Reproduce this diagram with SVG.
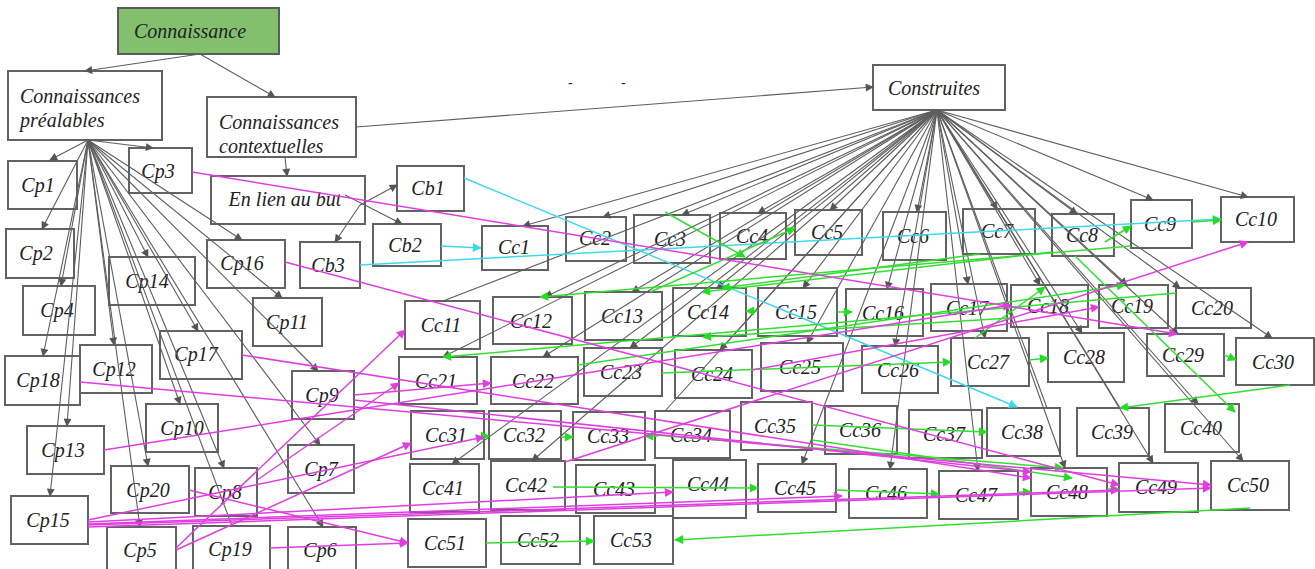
<svg xmlns="http://www.w3.org/2000/svg" width="1315" height="569" viewBox="0 0 1315 569">
<style>
.n rect{fill:#fff;stroke:#626262;stroke-width:2}
.n text{font-family:"Liberation Serif","Times New Roman",serif;font-style:italic;font-size:20px;fill:#222;text-anchor:middle}
.n text.l{text-anchor:start}
#conn line{fill:none}
.g{stroke:#5e5e5e;stroke-width:1.1}
.m{stroke:#e03ee0;stroke-width:1.5}
.c{stroke:#3fd8ea;stroke-width:1.5}
.v{stroke:#33dd33;stroke-width:1.5}
.dash{font-family:"Liberation Sans",sans-serif;font-size:14px;fill:#222}
</style>
<defs>
<marker id="ag" viewBox="0 0 10 10" refX="9" refY="5" markerWidth="10" markerHeight="8" markerUnits="userSpaceOnUse" orient="auto"><path d="M0,0L10,5L0,10z" fill="#555"/></marker>
<marker id="am" viewBox="0 0 10 10" refX="9" refY="5" markerWidth="11" markerHeight="9" markerUnits="userSpaceOnUse" orient="auto"><path d="M0,0L10,5L0,10z" fill="#e03ee0"/></marker>
<marker id="ac" viewBox="0 0 10 10" refX="9" refY="5" markerWidth="11" markerHeight="9" markerUnits="userSpaceOnUse" orient="auto"><path d="M0,0L10,5L0,10z" fill="#3fd8ea"/></marker>
<marker id="av" viewBox="0 0 10 10" refX="9" refY="5" markerWidth="11" markerHeight="9" markerUnits="userSpaceOnUse" orient="auto"><path d="M0,0L10,5L0,10z" fill="#22dd22"/></marker>
</defs>
<rect width="1315" height="569" fill="#fff"/>
<text class="dash" x="568" y="88">-</text>
<text class="dash" x="621" y="88">-</text>

<g id="Connaissance" class="n"><rect x="118" y="8" width="161" height="46" style="fill:#83c06e;stroke:#5b5b5b"/><text x="190" y="38">Connaissance</text></g>
<g id="Cpre" class="n"><rect x="8" y="71" width="154" height="69"/><text class="l" x="20" y="103">Connaissances</text><text class="l" x="20" y="127">préalables</text></g>
<g id="Cctx" class="n"><rect x="207" y="97" width="149" height="60"/><text class="l" x="219" y="129">Connaissances</text><text class="l" x="219" y="153">contextuelles</text></g>
<g id="Construites" class="n"><rect x="873" y="65" width="132" height="45"/><text x="934" y="95">Construites</text></g>
<g id="EnLien" class="n"><rect x="211" y="176" width="154" height="48"/><text x="285" y="206">En lien au but</text></g>
<g id="Cp1" class="n"><rect x="8" y="161" width="69" height="48"/><text x="38" y="192">Cp1</text></g>
<g id="Cp2" class="n"><rect x="6" y="229" width="68" height="49"/><text x="36" y="260">Cp2</text></g>
<g id="Cp3" class="n"><rect x="129" y="148" width="63" height="45"/><text x="158" y="178">Cp3</text></g>
<g id="Cp4" class="n"><rect x="23" y="286" width="72" height="49"/><text x="57" y="317">Cp4</text></g>
<g id="Cp14" class="n"><rect x="109" y="257" width="86" height="48"/><text x="147" y="288">Cp14</text></g>
<g id="Cp16" class="n"><rect x="207" y="240" width="78" height="48"/><text x="242" y="270">Cp16</text></g>
<g id="Cp11" class="n"><rect x="253" y="298" width="69" height="48"/><text x="287" y="329">Cp11</text></g>
<g id="Cp17" class="n"><rect x="160" y="331" width="82" height="48"/><text x="196" y="361">Cp17</text></g>
<g id="Cp12" class="n"><rect x="80" y="345" width="72" height="48"/><text x="114" y="376">Cp12</text></g>
<g id="Cp18" class="n"><rect x="5" y="356" width="75" height="49"/><text x="38" y="387">Cp18</text></g>
<g id="Cp9" class="n"><rect x="292" y="371" width="62" height="48"/><text x="322" y="402">Cp9</text></g>
<g id="Cp13" class="n"><rect x="27" y="426" width="77" height="48"/><text x="63" y="457">Cp13</text></g>
<g id="Cp10" class="n"><rect x="146" y="404" width="72" height="48"/><text x="182" y="435">Cp10</text></g>
<g id="Cp7" class="n"><rect x="288" y="445" width="66" height="48"/><text x="321" y="476">Cp7</text></g>
<g id="Cp20" class="n"><rect x="111" y="466" width="78" height="47"/><text x="148" y="497">Cp20</text></g>
<g id="Cp8" class="n"><rect x="195" y="468" width="62" height="48"/><text x="225" y="499">Cp8</text></g>
<g id="Cp15" class="n"><rect x="11" y="496" width="77" height="48"/><text x="48" y="527">Cp15</text></g>
<g id="Cp5" class="n"><rect x="107" y="527" width="69" height="46"/><text x="140" y="557">Cp5</text></g>
<g id="Cp19" class="n"><rect x="193" y="526" width="77" height="46"/><text x="230" y="556">Cp19</text></g>
<g id="Cp6" class="n"><rect x="288" y="527" width="68" height="46"/><text x="320" y="557">Cp6</text></g>
<g id="Cb1" class="n"><rect x="397" y="166" width="67" height="45"/><text x="428" y="195">Cb1</text></g>
<g id="Cb2" class="n"><rect x="373" y="224" width="68" height="42"/><text x="405" y="252">Cb2</text></g>
<g id="Cb3" class="n"><rect x="300" y="242" width="60" height="46"/><text x="328" y="272">Cb3</text></g>
<g id="Cc1" class="n"><rect x="482" y="226" width="66" height="44"/><text x="514" y="254">Cc1</text></g>
<g id="Cc2" class="n"><rect x="566" y="217" width="60" height="44"/><text x="595" y="245">Cc2</text></g>
<g id="Cc3" class="n"><rect x="634" y="215" width="76" height="48"/><text x="670" y="246">Cc3</text></g>
<g id="Cc4" class="n"><rect x="720" y="213" width="66" height="46"/><text x="752" y="243">Cc4</text></g>
<g id="Cc5" class="n"><rect x="795" y="210" width="67" height="45"/><text x="827" y="239">Cc5</text></g>
<g id="Cc6" class="n"><rect x="883" y="212" width="63" height="48"/><text x="913" y="243">Cc6</text></g>
<g id="Cc7" class="n"><rect x="963" y="209" width="72" height="45"/><text x="997" y="238">Cc7</text></g>
<g id="Cc8" class="n"><rect x="1052" y="214" width="62" height="42"/><text x="1082" y="242">Cc8</text></g>
<g id="Cc9" class="n"><rect x="1131" y="200" width="61" height="48"/><text x="1160" y="231">Cc9</text></g>
<g id="Cc10" class="n"><rect x="1221" y="197" width="73" height="45"/><text x="1256" y="226">Cc10</text></g>
<g id="Cc11" class="n"><rect x="405" y="301" width="75" height="48"/><text x="441" y="332">Cc11</text></g>
<g id="Cc12" class="n"><rect x="493" y="297" width="79" height="47"/><text x="531" y="328">Cc12</text></g>
<g id="Cc13" class="n"><rect x="585" y="292" width="77" height="48"/><text x="622" y="323">Cc13</text></g>
<g id="Cc14" class="n"><rect x="673" y="288" width="73" height="48"/><text x="708" y="319">Cc14</text></g>
<g id="Cc15" class="n"><rect x="758" y="288" width="79" height="48"/><text x="796" y="319">Cc15</text></g>
<g id="Cc16" class="n"><rect x="846" y="289" width="77" height="47"/><text x="883" y="320">Cc16</text></g>
<g id="Cc17" class="n"><rect x="931" y="284" width="76" height="47"/><text x="967" y="315">Cc17</text></g>
<g id="Cc18" class="n"><rect x="1011" y="285" width="77" height="42"/><text x="1048" y="313">Cc18</text></g>
<g id="Cc19" class="n"><rect x="1099" y="285" width="69" height="43"/><text x="1132" y="313">Cc19</text></g>
<g id="Cc20" class="n"><rect x="1176" y="288" width="75" height="40"/><text x="1212" y="315">Cc20</text></g>
<g id="Cc21" class="n"><rect x="399" y="357" width="78" height="47"/><text x="436" y="388">Cc21</text></g>
<g id="Cc22" class="n"><rect x="491" y="357" width="87" height="47"/><text x="533" y="388">Cc22</text></g>
<g id="Cc23" class="n"><rect x="584" y="348" width="78" height="48"/><text x="621" y="379">Cc23</text></g>
<g id="Cc24" class="n"><rect x="675" y="350" width="77" height="48"/><text x="712" y="381">Cc24</text></g>
<g id="Cc25" class="n"><rect x="761" y="343" width="82" height="48"/><text x="800" y="374">Cc25</text></g>
<g id="Cc26" class="n"><rect x="862" y="346" width="76" height="47"/><text x="898" y="377">Cc26</text></g>
<g id="Cc27" class="n"><rect x="951" y="338" width="78" height="48"/><text x="988" y="369">Cc27</text></g>
<g id="Cc28" class="n"><rect x="1048" y="333" width="76" height="49"/><text x="1084" y="364">Cc28</text></g>
<g id="Cc29" class="n"><rect x="1147" y="334" width="77" height="42"/><text x="1183" y="362">Cc29</text></g>
<g id="Cc30" class="n"><rect x="1236" y="338" width="78" height="47"/><text x="1273" y="369">Cc30</text></g>
<g id="Cc31" class="n"><rect x="411" y="411" width="73" height="48"/><text x="446" y="442">Cc31</text></g>
<g id="Cc32" class="n"><rect x="489" y="411" width="72" height="48"/><text x="524" y="442">Cc32</text></g>
<g id="Cc33" class="n"><rect x="573" y="412" width="72" height="48"/><text x="608" y="443">Cc33</text></g>
<g id="Cc34" class="n"><rect x="655" y="411" width="75" height="47"/><text x="691" y="442">Cc34</text></g>
<g id="Cc35" class="n"><rect x="741" y="402" width="71" height="48"/><text x="775" y="433">Cc35</text></g>
<g id="Cc36" class="n"><rect x="825" y="406" width="72" height="48"/><text x="860" y="437">Cc36</text></g>
<g id="Cc37" class="n"><rect x="909" y="410" width="73" height="48"/><text x="944" y="441">Cc37</text></g>
<g id="Cc38" class="n"><rect x="987" y="408" width="73" height="48"/><text x="1022" y="439">Cc38</text></g>
<g id="Cc39" class="n"><rect x="1077" y="408" width="72" height="48"/><text x="1112" y="439">Cc39</text></g>
<g id="Cc40" class="n"><rect x="1165" y="404" width="74" height="48"/><text x="1201" y="435">Cc40</text></g>
<g id="Cc41" class="n"><rect x="410" y="464" width="69" height="48"/><text x="443" y="495">Cc41</text></g>
<g id="Cc42" class="n"><rect x="491" y="461" width="74" height="49"/><text x="526" y="492">Cc42</text></g>
<g id="Cc43" class="n"><rect x="576" y="465" width="79" height="48"/><text x="614" y="496">Cc43</text></g>
<g id="Cc44" class="n"><rect x="673" y="460" width="73" height="58"/><text x="708" y="491">Cc44</text></g>
<g id="Cc45" class="n"><rect x="758" y="464" width="78" height="48"/><text x="795" y="495">Cc45</text></g>
<g id="Cc46" class="n"><rect x="849" y="469" width="78" height="49"/><text x="886" y="500">Cc46</text></g>
<g id="Cc47" class="n"><rect x="939" y="471" width="79" height="48"/><text x="976" y="502">Cc47</text></g>
<g id="Cc48" class="n"><rect x="1031" y="468" width="76" height="48"/><text x="1067" y="499">Cc48</text></g>
<g id="Cc49" class="n"><rect x="1119" y="463" width="79" height="49"/><text x="1156" y="494">Cc49</text></g>
<g id="Cc50" class="n"><rect x="1211" y="461" width="78" height="49"/><text x="1248" y="492">Cc50</text></g>
<g id="Cc51" class="n"><rect x="408" y="519" width="78" height="48"/><text x="445" y="550">Cc51</text></g>
<g id="Cc52" class="n"><rect x="501" y="516" width="79" height="48"/><text x="538" y="547">Cc52</text></g>
<g id="Cc53" class="n"><rect x="594" y="516" width="79" height="48"/><text x="631" y="547">Cc53</text></g>

<g id="conn">
<g class="g" marker-end="url(#ag)">
<line x1="200" y1="54" x2="85" y2="71"/>
<line x1="200" y1="54" x2="275" y2="97"/>
<line x1="356" y1="127" x2="873" y2="87"/>
<line x1="285" y1="157" x2="287" y2="176"/>
<line x1="360" y1="205" x2="397" y2="185"/>
<line x1="360" y1="205" x2="335" y2="242"/>
<line x1="345" y1="195" x2="402" y2="224"/>
<line x1="88" y1="140" x2="50" y2="160"/>
<line x1="88" y1="140" x2="153" y2="148"/>
<line x1="88" y1="140" x2="42" y2="229"/>
<line x1="88" y1="140" x2="61" y2="286"/>
<line x1="88" y1="140" x2="43" y2="356"/>
<line x1="88" y1="140" x2="67" y2="426"/>
<line x1="88" y1="140" x2="50" y2="496"/>
<line x1="88" y1="140" x2="148" y2="257"/>
<line x1="88" y1="140" x2="242" y2="240"/>
<line x1="88" y1="140" x2="114" y2="345"/>
<line x1="88" y1="140" x2="198" y2="331"/>
<line x1="88" y1="140" x2="282" y2="298"/>
<line x1="88" y1="140" x2="318" y2="371"/>
<line x1="88" y1="140" x2="180" y2="404"/>
<line x1="88" y1="140" x2="140" y2="527"/>
<line x1="88" y1="140" x2="148" y2="466"/>
<line x1="88" y1="140" x2="224" y2="468"/>
<line x1="88" y1="140" x2="320" y2="445"/>
<line x1="88" y1="140" x2="323" y2="527"/>
<line x1="937" y1="110" x2="523" y2="226"/>
<line x1="937" y1="110" x2="603" y2="217"/>
<line x1="937" y1="110" x2="682" y2="215"/>
<line x1="937" y1="110" x2="758" y2="213"/>
<line x1="937" y1="110" x2="830" y2="210"/>
<line x1="937" y1="110" x2="917" y2="212"/>
<line x1="937" y1="110" x2="997" y2="209"/>
<line x1="937" y1="110" x2="1077" y2="214"/>
<line x1="937" y1="110" x2="1153" y2="200"/>
<line x1="937" y1="110" x2="1248" y2="197"/>
<line x1="937" y1="110" x2="545" y2="297"/>
<line x1="937" y1="110" x2="632" y2="292"/>
<line x1="937" y1="110" x2="717" y2="288"/>
<line x1="937" y1="110" x2="803" y2="288"/>
<line x1="937" y1="110" x2="887" y2="289"/>
<line x1="937" y1="110" x2="968" y2="284"/>
<line x1="937" y1="110" x2="1040" y2="285"/>
<line x1="937" y1="110" x2="1127" y2="285"/>
<line x1="937" y1="110" x2="1180" y2="288"/>
<line x1="937" y1="110" x2="443" y2="357"/>
<line x1="937" y1="110" x2="543" y2="357"/>
<line x1="937" y1="110" x2="630" y2="348"/>
<line x1="937" y1="110" x2="720" y2="350"/>
<line x1="937" y1="110" x2="807" y2="343"/>
<line x1="937" y1="110" x2="895" y2="346"/>
<line x1="937" y1="110" x2="985" y2="338"/>
<line x1="937" y1="110" x2="1082" y2="333"/>
<line x1="937" y1="110" x2="1178" y2="334"/>
<line x1="937" y1="110" x2="1272" y2="338"/>
<line x1="937" y1="110" x2="452" y2="464"/>
<line x1="937" y1="110" x2="532" y2="461"/>
<line x1="937" y1="110" x2="802" y2="464"/>
<line x1="937" y1="110" x2="890" y2="469"/>
<line x1="937" y1="110" x2="978" y2="471"/>
<line x1="937" y1="110" x2="1065" y2="468"/>
<line x1="937" y1="110" x2="1153" y2="463"/>
<line x1="937" y1="110" x2="1243" y2="461"/>
<line x1="937" y1="110" x2="1198" y2="404"/>
</g>
<g class="g">
<line x1="88" y1="140" x2="232" y2="526"/>
<line x1="937" y1="110" x2="443" y2="301"/>
<line x1="937" y1="110" x2="665" y2="411"/>
<line x1="937" y1="110" x2="1047" y2="408"/>
<line x1="937" y1="110" x2="1120" y2="408"/>
</g>
<g class="c" marker-end="url(#ac)">
<line x1="464" y1="178" x2="1017" y2="407"/>
<line x1="441" y1="246" x2="481" y2="248"/>
<line x1="360" y1="265" x2="1221" y2="219"/>
</g>
<g class="v" marker-end="url(#av)">
<line x1="1131" y1="246" x2="540" y2="297"/>
<line x1="1192" y1="222" x2="1221" y2="220"/>
<line x1="1105" y1="242" x2="1131" y2="226"/>
<line x1="665" y1="212" x2="745" y2="257"/>
<line x1="650" y1="292" x2="795" y2="228"/>
<line x1="1052" y1="252" x2="702" y2="292"/>
<line x1="980" y1="254" x2="722" y2="288"/>
<line x1="758" y1="311" x2="746" y2="311"/>
<line x1="837" y1="312" x2="852" y2="312"/>
<line x1="1176" y1="293" x2="443" y2="357"/>
<line x1="1011" y1="318" x2="703" y2="337"/>
<line x1="975" y1="338" x2="1045" y2="287"/>
<line x1="578" y1="365" x2="1125" y2="285"/>
<line x1="662" y1="373" x2="951" y2="362"/>
<line x1="1029" y1="360" x2="1048" y2="358"/>
<line x1="1224" y1="355" x2="1236" y2="360"/>
<line x1="1075" y1="256" x2="1235" y2="412"/>
<line x1="1290" y1="385" x2="1120" y2="408"/>
<line x1="484" y1="436" x2="489" y2="436"/>
<line x1="561" y1="437" x2="573" y2="437"/>
<line x1="658" y1="436" x2="645" y2="436"/>
<line x1="812" y1="425" x2="987" y2="432"/>
<line x1="655" y1="435" x2="1063" y2="468"/>
<line x1="812" y1="440" x2="1072" y2="478"/>
<line x1="553" y1="487" x2="758" y2="488"/>
<line x1="836" y1="490" x2="939" y2="494"/>
<line x1="1018" y1="492" x2="1031" y2="492"/>
<line x1="1107" y1="489" x2="1119" y2="489"/>
<line x1="1250" y1="508" x2="675" y2="540"/>
<line x1="486" y1="543" x2="594" y2="541"/>
</g>
<g class="m" marker-end="url(#am)">
<line x1="192" y1="172" x2="1177" y2="334"/>
<line x1="285" y1="262" x2="1119" y2="485"/>
<line x1="242" y1="355" x2="1031" y2="478"/>
<line x1="80" y1="382" x2="1211" y2="485"/>
<line x1="104" y1="450" x2="1011" y2="305"/>
<line x1="354" y1="395" x2="491" y2="383"/>
<line x1="354" y1="400" x2="1031" y2="472"/>
<line x1="257" y1="480" x2="399" y2="383"/>
<line x1="176" y1="548" x2="405" y2="330"/>
<line x1="176" y1="550" x2="411" y2="443"/>
<line x1="88" y1="520" x2="484" y2="437"/>
<line x1="88" y1="522" x2="673" y2="492"/>
<line x1="88" y1="524" x2="842" y2="496"/>
<line x1="88" y1="525" x2="1119" y2="490"/>
<line x1="88" y1="527" x2="1211" y2="488"/>
<line x1="189" y1="490" x2="408" y2="543"/>
<line x1="270" y1="548" x2="408" y2="543"/>
<line x1="565" y1="462" x2="1248" y2="242"/>
<line x1="752" y1="370" x2="1099" y2="307"/>
</g>
</g>
</svg>
